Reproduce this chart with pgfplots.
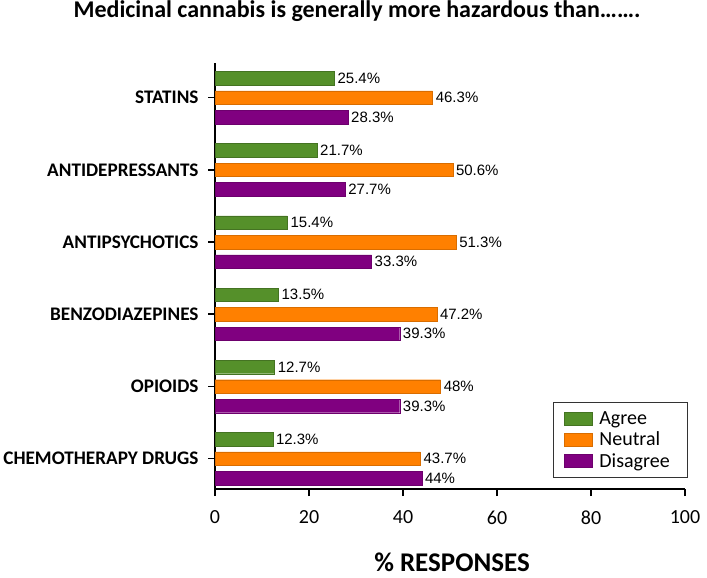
\documentclass[border=0pt]{standalone}
\usepackage{pgfplots}
\usepackage{pgfplotstable}
\pgfplotsset{compat=1.18}
\usepackage{fontspec}
\setmainfont{Carlito}
\newfontfamily\arial{Liberation Sans}
\definecolor{cgreen}{HTML}{55902A}
\definecolor{corange}{HTML}{FF8000}
\definecolor{cpurple}{HTML}{800080}

\pgfplotstableread{
y x lab
5 25.4 25.4\%
4 21.7 21.7\%
3 15.4 15.4\%
2 13.5 13.5\%
1 12.7 12.7\%
0 12.3 12.3\%
}\agree
\pgfplotstableread{
y x lab
5 46.3 46.3\%
4 50.6 50.6\%
3 51.3 51.3\%
2 47.2 47.2\%
1 48 48\%
0 43.7 43.7\%
}\neutral
\pgfplotstableread{
y x lab
5 28.3 28.3\%
4 27.7 27.7\%
3 33.3 33.3\%
2 39.3 39.3\%
1 39.3 39.3\%
0 44 44\%
}\disagree

\begin{document}
\begin{tikzpicture}
\useasboundingbox (0,0) rectangle (707bp,578bp);
\begin{axis}[
  at={(215bp,89bp)}, anchor=south west,
  scale only axis, width=470bp, height=426bp,
  xbar, bar width=13.5bp,
  xmin=0, xmax=100, ymin=-0.42, ymax=5.48,
  xtick={0,20,40,60,80,100},
  ytick={0,1,2,3,4,5},
  yticklabels={CHEMOTHERAPY DRUGS,OPIOIDS,BENZODIAZEPINES,ANTIPSYCHOTICS,ANTIDEPRESSANTS,STATINS},
  axis x line*=bottom, axis y line*=left,
  axis line style={line width=1.6bp, -},
  tick style={line width=1.6bp, black},
  tick align=outside, major tick length=7bp,
  /pgf/number format/assume math mode=true,
  xticklabel style={font=\fontsize{20bp}{24bp}\selectfont, yshift=-11bp},
  yticklabel style={font=\bfseries\fontsize{19.2bp}{23bp}\selectfont, xshift=-6bp},
  point meta=explicit symbolic,
  nodes near coords,
  nodes near coords style={font=\arial\fontsize{15bp}{18bp}\selectfont, anchor=west, inner sep=3bp},
  legend style={at={(1,0)}, anchor=south east, xshift=3bp, yshift=11bp, draw=black!80, line width=0.6bp,
    font=\fontsize{20bp}{23bp}\selectfont, inner xsep=11bp, inner ysep=8bp, row sep=4bp,
    cells={anchor=west}, nodes={inner xsep=7bp, inner ysep=1bp}},
  legend image code/.code={\draw[#1, line width=0.4bp] (0bp,-6.5bp) rectangle (28bp,6.5bp);},
  clip=false,
]
\addplot[fill=cgreen, draw=cgreen!80!black, line width=0.4bp, bar shift=19.5bp] table[x=x,y=y,meta=lab] {\agree};
\addplot[fill=corange, draw=corange!85!black, line width=0.4bp, bar shift=0bp] table[x=x,y=y,meta=lab] {\neutral};
\addplot[fill=cpurple, draw=cpurple!85!black, line width=0.4bp, bar shift=-19.5bp] table[x=x,y=y,meta=lab] {\disagree};
\legend{Agree,Neutral,Disagree}
\end{axis}
\node[anchor=base, inner sep=0pt] at (357bp,560bp) {\bfseries\fontsize{24bp}{29bp}\selectfont Medicinal cannabis is generally more hazardous than\ldots\ldots.};
\node[anchor=base, inner sep=0pt] at (452bp,7bp) {\bfseries\fontsize{27bp}{32bp}\selectfont \% RESPONSES};
\end{tikzpicture}
\end{document}
